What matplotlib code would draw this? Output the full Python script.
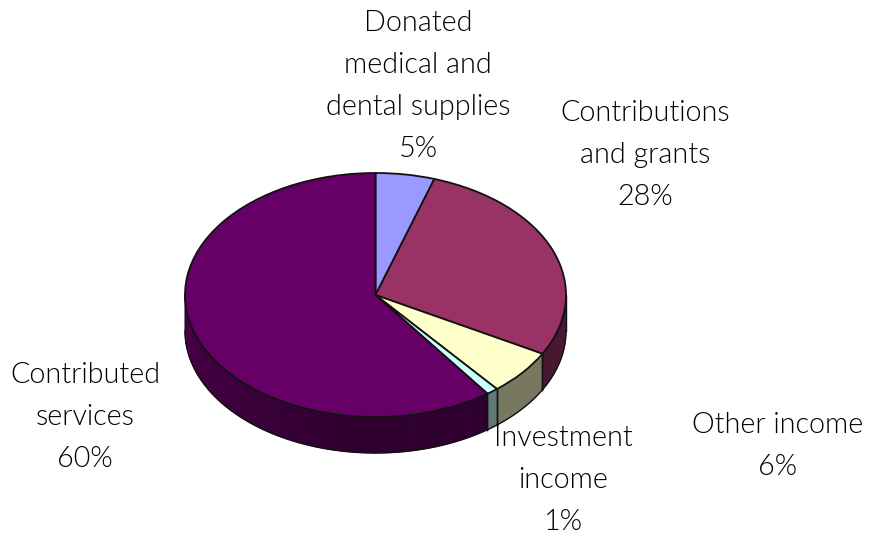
import matplotlib
matplotlib.use("Agg")
import matplotlib.pyplot as plt
from matplotlib.colors import to_rgb
import numpy as np

plt.rcParams['font.family'] = ['Lato', 'DejaVu Sans']

# income sources, clockwise from twelve o'clock
names = ["Donated\nmedical and\ndental supplies", "Contributions\nand grants", "Other income",
         "Investment\nincome", "Contributed\nservices"]
shares = [5, 28, 6, 1, 60]
colors = ["#9999FF", "#993366", "#FFFFCC", "#CCFFFF", "#660066"]

W, H = 869, 536
fig = plt.figure(figsize=(W/100, H/100), dpi=100)

# top face of the disc, squashed to an ellipse
left, right, top, bottom = 185, 566, 173, 417
ax = fig.add_axes([left/W, 1 - bottom/H, (right - left)/W, (bottom - top)/H])
wedges, _ = ax.pie(shares, colors=colors, startangle=90, counterclock=False, radius=1,
                   wedgeprops={'edgecolor': '#111111', 'linewidth': 1.3, 'zorder': 5})
ax.set_aspect('auto')
ax.set_xlim(-1, 1)
ax.set_ylim(-1, 1)

depth = 36 / ((bottom - top) / 2)


def wall_shade(deg):
    # left side of the rim catches more light than the front
    if deg <= -90:
        return 0.72 - 0.27 * (deg + 180) / 90
    return 0.47


# rim of the disc, built from narrow facets on the lower half
for w, col in zip(wedges, colors):
    a0, a1 = max(w.theta1, -180), min(w.theta2, 0)
    if a1 <= a0:
        continue
    n = max(int((a1 - a0) / 6), 1)
    edges = np.linspace(a0, a1, n + 1)
    rgb = np.array(to_rgb(col))
    for e0, e1 in zip(edges[:-1], edges[1:]):
        t = np.radians(np.linspace(e0, e1, 6))
        xs = np.r_[np.cos(t), np.cos(t)[::-1]]
        ys = np.r_[np.sin(t), np.sin(t)[::-1] - depth]
        shade = tuple(rgb * wall_shade((e0 + e1) / 2))
        ax.fill(xs, ys, facecolor=shade, edgecolor=shade, lw=0.6, zorder=2, clip_on=False)
    t = np.radians(np.linspace(a0, a1, 60))
    ax.plot(np.cos(t), np.sin(t) - depth, color='#111111', lw=1.0, zorder=3, clip_on=False)
    for a in (a0, a1):
        r = np.radians(a)
        ax.plot([np.cos(r)] * 2, [np.sin(r), np.sin(r) - depth], color='#111111', lw=1.0,
                zorder=3, clip_on=False)

# labels, placed in pixel coordinates of the figure
label_xy = [(418, 86), (645, 155), (778, 446), (563, 480), (85, 417)]
for name, share, (x, y) in zip(names, shares, label_xy):
    fig.text(x/W, 1 - y/H, f"{name}\n{share}%", ha='center', va='center', fontsize=20.7,
             fontweight=300, linespacing=1.75, color='black', zorder=10)

fig.savefig("out.png", dpi=100, facecolor='white')
